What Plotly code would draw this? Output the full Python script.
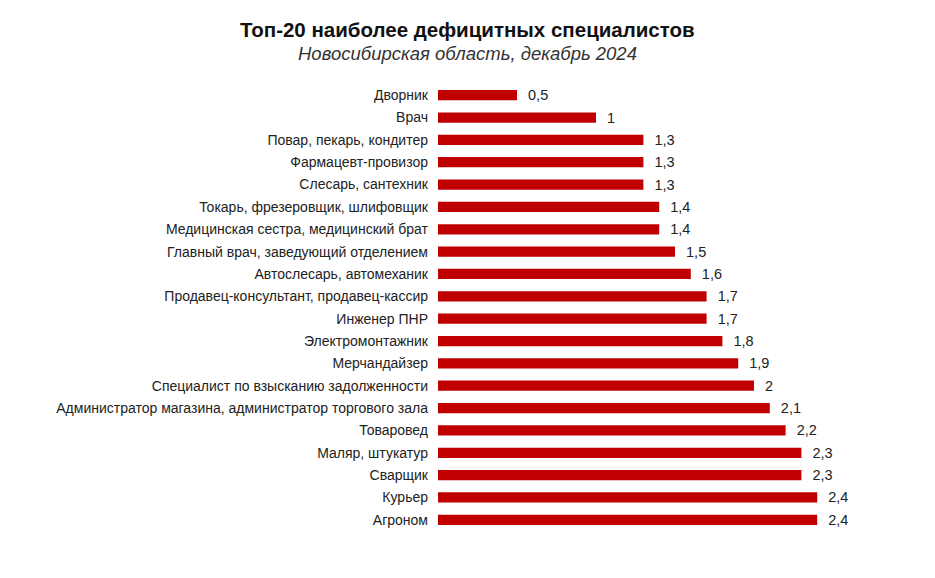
import plotly.graph_objects as go

# Данные
professions = [
    "Дворник",
    "Врач",
    "Повар, пекарь, кондитер",
    "Фармацевт-провизор",
    "Слесарь, сантехник",
    "Токарь, фрезеровщик, шлифовщик",
    "Медицинская сестра, медицинский брат",
    "Главный врач, заведующий отделением",
    "Автослесарь, автомеханик",
    "Продавец-консультант, продавец-кассир",
    "Инженер ПНР",
    "Электромонтажник",
    "Мерчандайзер",
    "Специалист по взысканию задолженности",
    "Администратор магазина, администратор торгового зала",
    "Товаровед",
    "Маляр, штукатур",
    "Сварщик",
    "Курьер",
    "Агроном",
]
values = [0.5, 1, 1.3, 1.3, 1.3, 1.4, 1.4, 1.5, 1.6, 1.7,
          1.7, 1.8, 1.9, 2, 2.1, 2.2, 2.3, 2.3, 2.4, 2.4]

title = "Топ-20 наиболее дефицитных специалистов"
subtitle = "Новосибирская область, декабрь 2024"

# размеры (страница сдвигает рисунок на 8px из-за отступа body)
W, H = 927, 570
L, R, T, B = 430, 60, 76, 47
plot_w = W - L - R
plot_h = H - T - B

fig = go.Figure()

fig.add_trace(go.Bar(
    x=values,
    y=professions,
    orientation="h",
    marker=dict(color="#C00000", line=dict(width=0)),
    width=0.46,
    texttemplate="  %{x}",
    textposition="outside",
    constraintext="none",
    cliponaxis=False,
    textfont=dict(family="Liberation Sans, Arial, sans-serif", size=14.5, color="#222222"),
    hoverinfo="skip",
))

title_x = (459 - L) / plot_w
fig.update_layout(
    width=W,
    height=H,
    separators=", ",
    paper_bgcolor="white",
    plot_bgcolor="white",
    margin=dict(l=L, r=R, t=T, b=B, autoexpand=False),
    showlegend=False,
    font=dict(family="Liberation Sans, Arial, sans-serif", size=14, color="#222222"),
    xaxis=dict(range=[0, plot_w / 158], visible=False),
    yaxis=dict(
        autorange="reversed",
        showgrid=False,
        zeroline=False,
        showline=False,
        ticks="",
        ticklabelstandoff=9,
        tickfont=dict(size=14, color="#222222"),
    ),
    annotations=[
        dict(text="<b>" + title + "</b>", x=title_x, y=(H - B - 22) / plot_h,
             xref="paper", yref="paper", xanchor="center", yanchor="middle",
             showarrow=False, font=dict(size=20.5, color="#111111")),
        dict(text="<i>" + subtitle + "</i>", x=title_x, y=(H - B - 45) / plot_h,
             xref="paper", yref="paper", xanchor="center", yanchor="middle",
             showarrow=False, font=dict(size=18.5, color="#333333")),
    ],
)

fig.write_html("out.html")
